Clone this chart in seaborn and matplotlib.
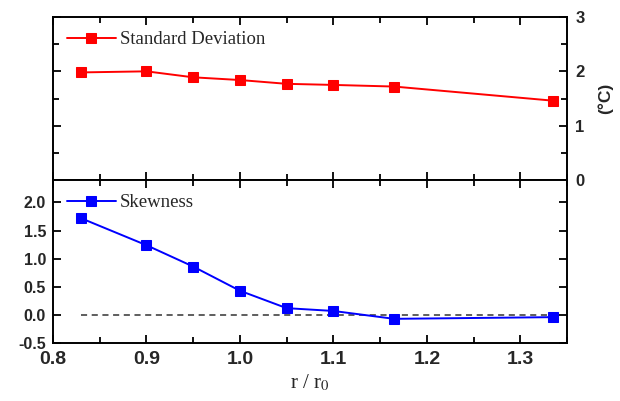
import matplotlib
matplotlib.use("Agg")
import matplotlib.pyplot as plt
import seaborn as sns
import pandas as pd
from matplotlib.ticker import MultipleLocator

r_ratio = [0.83, 0.90, 0.95, 1.00, 1.05, 1.10, 1.165, 1.335]
std_dev = [1.98, 2.00, 1.89, 1.84, 1.77, 1.75, 1.72, 1.46]
skewness = [1.72, 1.24, 0.86, 0.43, 0.12, 0.07, -0.07, -0.04]
x_ticks = [0.8, 0.9, 1.0, 1.1, 1.2, 1.3]

sns.set_theme(style="ticks")
plt.rcParams['font.family'] = ['Liberation Sans', 'DejaVu Sans']

df = pd.DataFrame({"r": r_ratio, "std": std_dev, "skew": skewness})

fig = plt.figure(figsize=(6.2, 4.01), dpi=100)
L, R = 53/620, 567/620
ax1 = fig.add_axes([L, 1-180/401, R-L, (180-17)/401])
ax2 = fig.add_axes([L, 1-343/401, R-L, (343-180)/401])

sns.lineplot(data=df, x="r", y="std", ax=ax1, color="#ff0000", marker="s",
             markersize=7, markeredgecolor="#ff0000", linewidth=1.4,
             label="Standard Deviation")
sns.lineplot(data=df, x="r", y="skew", ax=ax2, color="#0000ff", marker="s",
             markersize=7, markeredgecolor="#0000ff", linewidth=1.4,
             label="Skewness")
ax2.plot([r_ratio[0], r_ratio[-1]], [0, 0], ls="--", color="#333333", lw=1.1,
         dashes=(4, 3), zorder=1)

for ax in (ax1, ax2):
    ax.set_xlim(0.8, 1.35)
    ax.xaxis.set_major_locator(MultipleLocator(0.1))
    ax.xaxis.set_minor_locator(MultipleLocator(0.05))
    for s in ax.spines.values():
        s.set_linewidth(1.4)
        s.set_color("black")
        s.set_visible(True)
    ax.tick_params(which="both", direction="in", top=True, right=True,
                   width=1.3, color="black")
    ax.tick_params(which="major", length=6)
    ax.tick_params(which="minor", length=4)
    ax.set_xlabel("")
    ax.set_ylabel("")
    ax.legend(loc="upper left", frameon=False, handlelength=2.6,
              handletextpad=0.2, borderaxespad=0.35,
              prop={"family": "Liberation Serif", "size": 13.5})

ax1.set_ylim(0, 3)
ax1.yaxis.set_major_locator(MultipleLocator(1))
ax1.yaxis.set_minor_locator(MultipleLocator(0.5))
ax1.tick_params(axis="y", which="both", labelleft=False, labelright=True,
                pad=6)
ax1.tick_params(axis="x", which="both", labelbottom=False)
for t in ax1.get_yticklabels():
    t.set_fontweight("bold"); t.set_fontsize(12)
ax1.yaxis.set_label_position("right")
ax1.set_ylabel("(°C)", fontsize=12.5, fontweight="bold", labelpad=9)

ax2.set_ylim(-0.5, 2.4)
ax2.set_yticks([-0.5, 0.0, 0.5, 1.0, 1.5, 2.0])
ax2.set_yticklabels(["-0.5", "0.0", "0.5", "1.0", "1.5", "2.0"],
                    fontsize=11.5, fontweight="bold")
ax2.tick_params(axis="y", pad=5)
ax2.set_xticks(x_ticks)
ax2.set_xticklabels([f"{v:.1f}" for v in x_ticks], fontsize=14,
                    fontweight="bold")
ax2.tick_params(axis="x", which="major", pad=6)
ax2.set_xlabel("r / r$_0$", fontsize=15, family="Liberation Serif",
               labelpad=3)
ax2.xaxis.label.set_math_fontfamily("stix")

fig.savefig("out.png", dpi=100)
